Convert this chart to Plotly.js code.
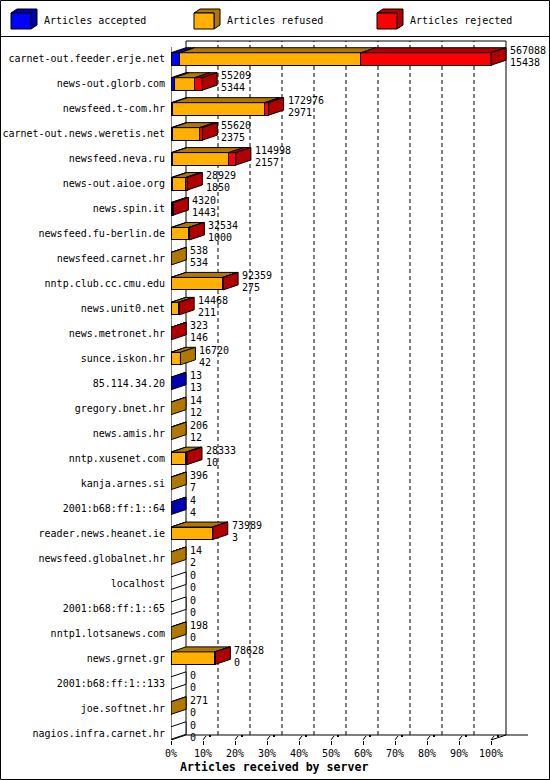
<!DOCTYPE html>
<html>
<head>
<meta charset="utf-8">
<script src="https://cdn.plot.ly/plotly-3.0.1.min.js"></script>
<style>
  body { margin: 0; background: #fff; }
  #chart { width: 550px; height: 780px; }
</style>
</head>
<body>
<div id="chart"></div>
<script>
// servers, top to bottom
const servers = ['carnet-out.feeder.erje.net', 'news-out.glorb.com', 'newsfeed.t-com.hr',
  'carnet-out.news.weretis.net', 'newsfeed.neva.ru', 'news-out.aioe.org', 'news.spin.it',
  'newsfeed.fu-berlin.de', 'newsfeed.carnet.hr', 'nntp.club.cc.cmu.edu', 'news.unit0.net',
  'news.metronet.hr', 'sunce.iskon.hr', '85.114.34.20', 'gregory.bnet.hr', 'news.amis.hr',
  'nntp.xusenet.com', 'kanja.arnes.si', '2001:b68:ff:1::64', 'reader.news.heanet.ie',
  'newsfeed.globalnet.hr', 'localhost', '2001:b68:ff:1::65', 'nntp1.lotsanews.com',
  'news.grnet.gr', '2001:b68:ff:1::133', 'joe.softnet.hr', 'nagios.infra.carnet.hr'];

// articles offered (upper number) and accepted (lower number)
const offered = [567088, 55209, 172976, 55620, 114998, 28929, 4320, 32534, 538, 92359, 14468,
  323, 16720, 13, 14, 206, 28333, 396, 4, 73989, 14, 0, 0, 198, 78628, 0, 271, 0];
const accepted = [15438, 5344, 2971, 2375, 2157, 1850, 1443, 1000, 534, 275, 211,
  146, 42, 13, 12, 12, 10, 7, 4, 3, 2, 0, 0, 0, 0, 0, 0, 0];
// split of the rest
const refused = [321000, 36700, 162900, 47800, 100200, 23450, 1400, 29800, 4, 91284, 12200,
  0, 16678, 0, 2, 194, 26100, 389, 0, 73486, 12, 0, 0, 198, 77128, 0, 271, 0];
const rejected = [230650, 13165, 7105, 5445, 12641, 3629, 1477, 1734, 0, 800, 2057,
  177, 0, 0, 0, 0, 2223, 0, 0, 500, 0, 0, 0, 0, 1500, 0, 0, 0];

const seriesNames = ['Articles accepted', 'Articles refused', 'Articles rejected'];
const tickPercents = [0, 10, 20, 30, 40, 50, 60, 70, 80, 90, 100];

// colours: front face / top+side face
const frontCol = ['#0000ff', '#ffb000', '#ff0000'];
const darkCol = ['#0000b0', '#b07800', '#b00000'];

// page geometry in pixels
const W = 550, H = 780;
const L = 171, R = 19, T = 40, B = 40;
const xMax = 112.5;
const yTop = -0.76, yBot = 27.28;
const pxX = (W - L - R) / xMax;
const pxY = (H - T - B) / (yBot - yTop);
const dx = 15 / pxX, dy = -5 / pxY;   // 3d depth
const half = 0.25;

const maxTotal = Math.max(...offered);
const toPct = arr => arr.map(v => v / maxTotal * 100);
const rows = servers.map((s, i) => i);

const px2x = p => (p - L) / (W - L - R);
const py2y = p => 1 - (p - T) / (H - T - B);

const series = [accepted, refused, rejected];
const traces = series.map((arr, k) => ({
  type: 'bar',
  orientation: 'h',
  name: seriesNames[k],
  x: toPct(arr),
  y: rows,
  width: 0.5,
  marker: { color: frontCol[k], line: { color: '#000', width: 1 } },
  hoverinfo: 'skip',
  showlegend: false
}));

const shapes = [];
const line = (x0, y0, x1, y1, extra) => Object.assign({
  type: 'line', xref: 'x', yref: 'y', x0, y0, x1, y1,
  line: { color: '#000', width: 1 }, layer: 'below'
}, extra || {});

// back wall and dashed grid
const wallTop = yTop + 1 / pxY;
tickPercents.slice(1, -1).forEach(p => {
  shapes.push(line(p + dx, yBot + dy, p + dx, wallTop, { line: { color: '#000', width: 1, dash: '4px,3px' } }));
});
shapes.push(line(dx, yBot + dy, dx, wallTop));
shapes.push(line(100 + dx, yBot + dy, 100 + dx, wallTop));
shapes.push(line(dx, wallTop, 100 + dx, wallTop));
// front axis and floor
shapes.push(line(0, yTop + 7 / pxY, 0, yBot));
shapes.push(line(0, yBot, dx, yBot + dy));
shapes.push(line(dx, yBot + dy, (528 - L) / pxX, yBot + dy));
shapes.push(line(100, yBot, 100 + dx, yBot + dy));
tickPercents.slice(1).forEach(p => {
  shapes.push(line(p, yBot, p + 3 / pxX, yBot - 4 / pxY));
  shapes.push({ type: 'rect', xref: 'x', yref: 'y', x0: p + 6 / pxX, x1: p + 8 / pxX,
    y0: yBot - 3 / pxY, y1: yBot - 5 / pxY, fillcolor: '#000', line: { width: 0 }, layer: 'below' });
});

// top and side faces of every bar
rows.forEach(i => {
  const top = i - half, bot = i + half;
  let x0 = 0, last = -1;
  series.forEach((arr, k) => {
    const w = arr[i] / maxTotal * 100;
    if (arr[i] > 0) {
      shapes.push({ type: 'path', xref: 'x', yref: 'y',
        path: `M${x0},${top} L${x0 + w},${top} L${x0 + w + dx},${top + dy} L${x0 + dx},${top + dy} Z`,
        fillcolor: darkCol[k], line: { color: '#000', width: 1 } });
      last = k;
    }
    x0 += w;
  });
  shapes.push({ type: 'path', xref: 'x', yref: 'y',
    path: `M${x0},${top} L${x0 + dx},${top + dy} L${x0 + dx},${bot + dy} L${x0},${bot} Z`,
    fillcolor: last >= 0 ? darkCol[last] : '#fff', line: { color: '#000', width: 1 } });
});

const font = { family: 'DejaVu Sans Mono, monospace', size: 10, color: '#000' };

// value labels next to each bar: offered above, accepted below
const annotations = [];
rows.forEach(i => {
  const lx = offered[i] / maxTotal * 100 + dx + 2 / pxX;
  [[offered[i], 8], [accepted[i], -4]].forEach(([v, shift]) => {
    annotations.push({ xref: 'x', yref: 'y', x: lx, y: i, text: String(v), showarrow: false,
      xanchor: 'left', yanchor: 'middle', yshift: shift, font: font });
  });
});

// legend strip
const legendX = [11, 194, 377];
legendX.forEach((lx, k) => {
  const fx0 = lx, fx1 = lx + 20, fy0 = 13, fy1 = 29, ddx = 6, ddy = -4;
  const P = (x, y) => `${px2x(x)},${py2y(y)}`;
  shapes.push({ type: 'path', xref: 'paper', yref: 'paper',
    path: `M${P(fx0, fy0)} L${P(fx0 + ddx, fy0 + ddy)} L${P(fx1 + ddx, fy0 + ddy)} L${P(fx1 + ddx, fy1 + ddy)} L${P(fx1, fy1)} L${P(fx1, fy0)} Z`,
    fillcolor: darkCol[k], line: { color: '#000', width: 1 } });
  shapes.push({ type: 'rect', xref: 'paper', yref: 'paper',
    x0: px2x(fx0), x1: px2x(fx1), y0: py2y(fy0), y1: py2y(fy1),
    fillcolor: frontCol[k], line: { color: '#000', width: 1 } });
  annotations.push({ xref: 'paper', yref: 'paper', x: px2x(lx + 31), y: py2y(20),
    text: seriesNames[k], showarrow: false, xanchor: 'left', yanchor: 'middle', font: font });
});
shapes.push({ type: 'line', xref: 'paper', yref: 'paper', x0: px2x(0), x1: px2x(W),
  y0: py2y(36.5), y1: py2y(36.5), line: { color: '#000', width: 1 } });
// outer frame
shapes.push({ type: 'rect', xref: 'paper', yref: 'paper', x0: px2x(0.5), x1: px2x(W - 0.5),
  y0: py2y(0.5), y1: py2y(H - 0.5), line: { color: '#000', width: 1 } });

// axis title
annotations.push({ xref: 'paper', yref: 'paper', x: px2x(178), y: py2y(767),
  text: '<b>Articles received by server</b>', showarrow: false,
  xanchor: 'left', yanchor: 'middle', font: { family: 'DejaVu Sans Mono, monospace', size: 11.6, color: '#000' } });

const layout = {
  width: W, height: H,
  margin: { l: L, r: R, t: T, b: B, pad: 0 },
  paper_bgcolor: '#fff', plot_bgcolor: '#fff',
  barmode: 'stack', bargap: 0,
  showlegend: false,
  font: font,
  xaxis: {
    range: [0, xMax], showgrid: false, zeroline: false, showline: false,
    tickvals: tickPercents, ticktext: tickPercents.map(p => p + '%'),
    ticks: 'outside', ticklen: 4, tickcolor: '#000', tickfont: font, fixedrange: true
  },
  yaxis: {
    range: [yBot, yTop], showgrid: false, zeroline: false, showline: false,
    tickvals: rows, ticktext: servers,
    ticks: 'outside', ticklen: 3, tickcolor: 'rgba(0,0,0,0)', tickfont: font, fixedrange: true
  },
  shapes: shapes,
  annotations: annotations
};

Plotly.newPlot('chart', traces, layout, { displayModeBar: false, staticPlot: true });
</script>
</body>
</html>
